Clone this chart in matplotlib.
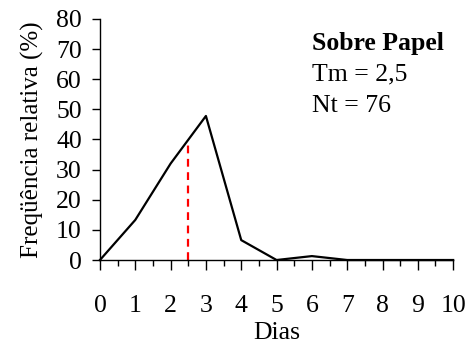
import matplotlib
matplotlib.use("Agg")
import matplotlib.pyplot as plt
from matplotlib.ticker import MultipleLocator

# frequency per day
dias = [0, 1, 2, 3, 4, 5, 6, 7, 8, 9, 10]
freq = [0, 13.3, 32.0, 47.8, 6.6, 0, 1.3, 0, 0, 0, 0]
tm = 2.5
nt = 76

plt.rcParams["font.family"] = ["Liberation Serif", "DejaVu Serif"]
plt.rcParams["font.size"] = 18.5

fig = plt.figure(figsize=(4.76, 3.54), dpi=100)
ax = fig.add_axes([0.210, 0.2655, 0.742, 0.681])

ax.plot(dias, freq, color="black", lw=1.6, clip_on=False, zorder=3)
# mean time marker, up to the curve
y_tm = freq[2] + (freq[3] - freq[2]) * (tm - 2)
ax.plot([tm, tm], [0, y_tm], color="red", lw=1.6, ls=(0, (3.5, 2.5)), zorder=2)

ax.set_xlim(0, 10)
ax.set_ylim(0, 80)
ax.set_xticks(range(0, 11))
ax.xaxis.set_minor_locator(MultipleLocator(0.5))
ax.set_yticks(range(0, 81, 10))
ax.tick_params(axis="x", which="major", direction="out", length=7, width=1, pad=18)
ax.tick_params(axis="x", which="minor", direction="out", length=4, width=1)
ax.tick_params(axis="y", direction="out", length=6, width=1, pad=7)
for s in ["top", "right"]:
    ax.spines[s].set_visible(False)
ax.spines["left"].set_linewidth(1)
ax.spines["bottom"].set_linewidth(1)

ax.set_xlabel("Dias", labelpad=4)
ax.set_ylabel("Freqüência relativa (%)", labelpad=9, fontsize=18)

ax.text(0.60, 0.90, "Sobre Papel", transform=ax.transAxes, fontweight="bold",
        va="center", ha="left")
ax.text(0.60, 0.77, f"Tm = {str(tm).replace('.', ',')}", transform=ax.transAxes,
        va="center", ha="left")
ax.text(0.60, 0.64, f"Nt = {nt}", transform=ax.transAxes, va="center", ha="left")

fig.savefig("out.png", dpi=100)
